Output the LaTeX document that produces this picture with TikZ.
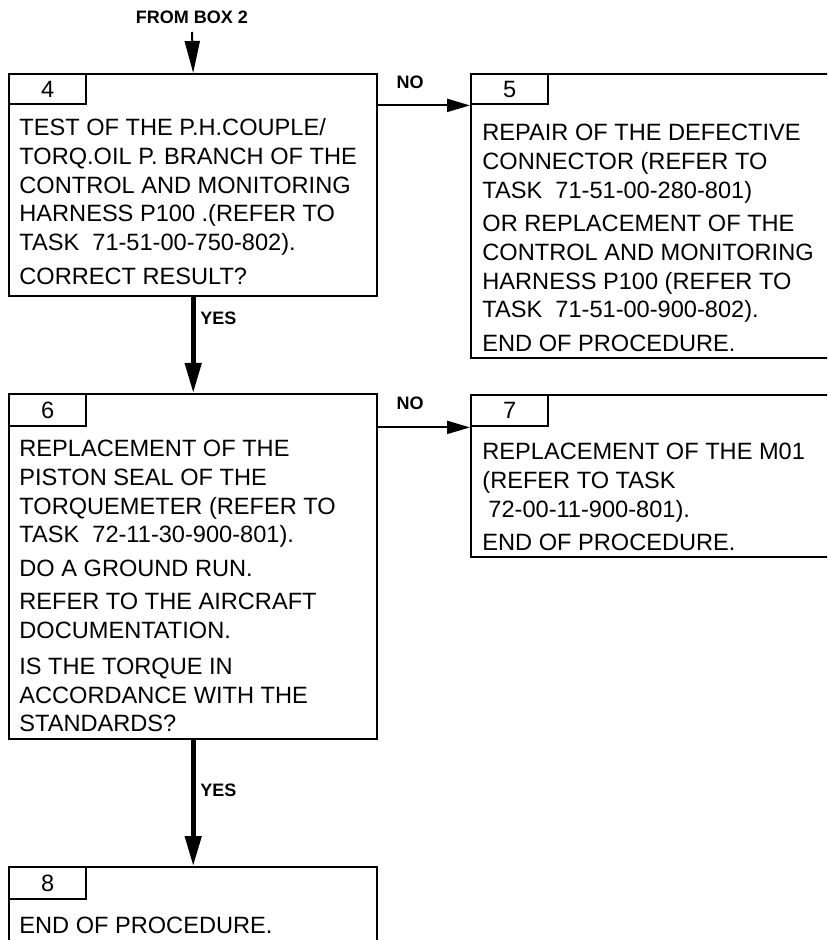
\documentclass[tikz,border=0pt]{standalone}
\usepackage{fontspec}
\setmainfont{Liberation Sans}
\usetikzlibrary{arrows.meta}
\tikzset{
  boxframe/.style={draw, line width=1.2pt, rectangle, inner sep=0pt, anchor=north west},
  tabbox/.style={draw, line width=1.2pt, rectangle, inner sep=0pt, minimum width=38.5pt, anchor=north west, font=\fontsize{11.8pt}{14pt}\selectfont},
  bodytext/.style={anchor=base west, inner sep=0pt, font=\fontsize{11.8pt}{14.4pt}\selectfont},
  lbl/.style={inner sep=0pt, font=\bfseries\fontsize{9pt}{10pt}\selectfont},
  noarrow/.style={line width=1pt, -{Triangle[length=11.5pt,width=6.5pt]}},
  yesarrow/.style={line width=2.3pt, -{Triangle[length=15pt,width=8pt]}},
  inarrow/.style={line width=1pt, -{Triangle[length=16pt,width=7.5pt]}}
}
\newcommand{\gap}{\\[2.3pt]}
\begin{document}
\begin{tikzpicture}[x=0.5pt,y=-0.5pt]
\clip (0,0) rectangle (827,940);
\fill[white] (0,0) rectangle (827,940);

% Box 4
\node[boxframe, minimum width=184pt, minimum height=111pt] (b4) at (8,73) {};
\node[tabbox, minimum height=15pt] (t4) at (8,73) {4};
\node[bodytext] (x4) at (19,135.5) {\parbox[t]{180pt}{\raggedright
TEST OF THE P.H.COUPLE/\\
TORQ.OIL P. BRANCH OF THE\\
CONTROL AND MONITORING\\
HARNESS P100 .(REFER TO\\
TASK\ \ 71-51-00-750-802).\gap
CORRECT RESULT?}};

% Box 5
\node[boxframe, minimum width=182.5pt, minimum height=142pt] (b5) at (470,73) {};
\node[tabbox, minimum height=15pt] (t5) at (470,73) {5};
\node[bodytext] (x5) at (482,140.5) {\parbox[t]{180pt}{\raggedright
REPAIR OF THE DEFECTIVE\\
CONNECTOR (REFER TO\\
TASK\ \ 71-51-00-280-801)\gap
OR REPLACEMENT OF THE\\
CONTROL AND MONITORING\\
HARNESS P100 (REFER TO\\
TASK\ \ 71-51-00-900-802).\gap
END OF PROCEDURE.}};

% Box 6
\node[boxframe, minimum width=184pt, minimum height=172.5pt] (b6) at (8,393) {};
\node[tabbox, minimum height=16pt] (t6) at (8,393) {6};
\node[bodytext] (x6) at (19,456.5) {\parbox[t]{180pt}{\raggedright
REPLACEMENT OF THE\\
PISTON SEAL OF THE\\
TORQUEMETER (REFER TO\\
TASK\ \ 72-11-30-900-801).\gap
DO A GROUND RUN.\gap
REFER TO THE AIRCRAFT\\
DOCUMENTATION.\\[3.5pt]
IS THE TORQUE IN\\
ACCORDANCE WITH THE\\
STANDARDS?}};

% Box 7
\node[boxframe, minimum width=182.5pt, minimum height=81pt] (b7) at (470,394) {};
\node[tabbox, minimum height=15.5pt] (t7) at (470,394) {7};
\node[bodytext] (x7) at (482,459.5) {\parbox[t]{180pt}{\raggedright
REPLACEMENT OF THE M01\\
(REFER TO TASK\\
\hspace*{3pt}72-00-11-900-801).\gap
END OF PROCEDURE.}};

% Box 8
\node[boxframe, minimum width=184pt, minimum height=37pt] (b8) at (8,866) {};
\node[tabbox, minimum height=16pt] (t8) at (8,866) {8};
\node[bodytext] (x8) at (19,933.5) {END OF PROCEDURE.};

% Connectors
\node[lbl] (from) at (192,17) {FROM BOX 2};
\coordinate (src) at (192,32);
\draw[inarrow] (src) -- (b4.north);

\draw[noarrow] (b4.east |- t5.south) -- (t5.south west);
\node[lbl] (no1) at (410,82) {NO};

\draw[yesarrow] (b4.south) -- (b6.north);
\node[lbl, anchor=west] (yes1) at (200,318) {YES};

\draw[noarrow] (b6.east |- t7.south) -- (t7.south west);
\node[lbl] (no2) at (410,403) {NO};

\draw[yesarrow] (b6.south) -- (b8.north);
\node[lbl, anchor=west] (yes2) at (200,790) {YES};
\end{tikzpicture}
\end{document}
